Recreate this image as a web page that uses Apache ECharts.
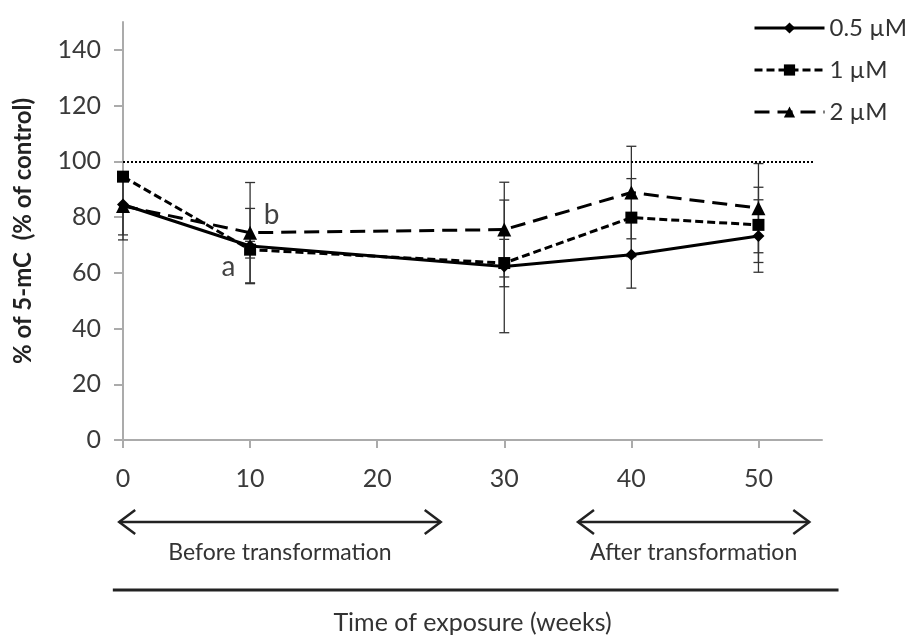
<!DOCTYPE html>
<html>
<head>
<meta charset="utf-8">
<script src="https://cdn.jsdelivr.net/npm/echarts@6/dist/echarts.min.js"></script>
<style>
  html, body { margin: 0; padding: 0; background: #fff; }
  #chart { width: 907px; height: 639px; }
</style>
</head>
<body>
<div id="chart"></div>
<script>
// weeks of exposure
const weeks = [0, 10, 30, 40, 50];
const xTicks = [0, 10, 20, 30, 40, 50];
const yTicks = [0, 20, 40, 60, 80, 100, 120, 140];

// % of 5-mC (% of control)
const dose05 = [84.5, 69.6, 62.3, 66.5, 73.2];
const dose1 = [94.5, 68.3, 63.5, 79.8, 77.2];
const dose2 = [84.0, 74.4, 75.5, 88.8, 83.2];

// error bars (+/-)
const err05 = [10.9, 13.5, 23.8, 12.0, 13.0];
const err1 = [1.5, 3.0, 8.5, 14.0, 13.5];
const err2 = [12.2, 18.0, 17.0, 16.6, 16.0];

const controlLevel = 100;
const controlFrom = 0;
const controlTo = 54.4;

// letters near week 10
const noteText = ['a', 'b'];
const noteX = [8.3, 11.7];
const noteY = [62.1, 80.8];

// phases shown below the x axis
const phaseNames = ['Before transformation', 'After transformation'];
const phaseFrom = [-0.3, 35.8];
const phaseTo = [25.0, 54.0];

const fontFamily = 'Lato, "Open Sans", sans-serif';
const axisGray = '#ababab';

function pairs(xs, ys) {
  return xs.map((x, i) => [x, ys[i]]);
}

function errData(xs, ys, es) {
  return xs.map((x, i) => [x, ys[i] - es[i], ys[i] + es[i]]);
}

function errSeries(data) {
  return {
    type: 'custom',
    silent: true,
    z: 1,
    data: data,
    encode: { x: 0, y: [1, 2] },
    renderItem: function (params, api) {
      const lo = api.coord([api.value(0), api.value(1)]);
      const hi = api.coord([api.value(0), api.value(2)]);
      const cap = 5;
      const style = { stroke: '#333', lineWidth: 1.3 };
      return {
        type: 'group',
        children: [
          { type: 'line', shape: { x1: hi[0], y1: hi[1], x2: lo[0], y2: lo[1] }, style: style },
          { type: 'line', shape: { x1: hi[0] - cap, y1: hi[1], x2: hi[0] + cap, y2: hi[1] }, style: style },
          { type: 'line', shape: { x1: lo[0] - cap, y1: lo[1], x2: lo[0] + cap, y2: lo[1] }, style: style }
        ]
      };
    }
  };
}

const chart = echarts.init(document.getElementById('chart'));

const option = {
  animation: false,
  textStyle: { fontFamily: fontFamily },
  grid: { left: 123, right: 85, top: 22, bottom: 199, containLabel: false, outerBoundsMode: 'none' },
  legend: {
    orient: 'vertical',
    left: 748,
    top: 11,
    itemWidth: 70,
    itemHeight: 14,
    itemGap: 18,
    lineStyle: { width: 3 },
    textStyle: { fontSize: 24, color: '#333', fontFamily: fontFamily, lineHeight: 24 },
    data: ['0.5 µM', '1 µM', '2 µM']
  },
  xAxis: {
    type: 'value',
    min: 0,
    max: 55,
    interval: 10,
    name: 'Time of exposure (weeks)',
    nameLocation: 'middle',
    nameGap: 170,
    nameTextStyle: { fontSize: 25, color: '#333', fontFamily: fontFamily },
    splitLine: { show: false },
    axisLine: { lineStyle: { color: axisGray, width: 2 } },
    axisTick: { length: 8, lineStyle: { color: axisGray, width: 2 }, customValues: xTicks },
    axisLabel: { fontSize: 25, color: '#3a3a3a', margin: 26, customValues: xTicks }
  },
  yAxis: {
    type: 'value',
    min: 0,
    max: 150,
    interval: 20,
    name: '% of 5-mC  (% of control)',
    nameLocation: 'middle',
    nameGap: 88,
    nameRotate: 90,
    nameTextStyle: { fontSize: 24, fontWeight: 'bold', color: '#222', fontFamily: fontFamily },
    splitLine: { show: false },
    axisLine: { show: true, lineStyle: { color: axisGray, width: 2 } },
    axisTick: { show: true, length: 9, lineStyle: { color: axisGray, width: 2 }, customValues: yTicks },
    axisLabel: { fontSize: 25, color: '#3a3a3a', margin: 22, customValues: yTicks }
  },
  series: [
    errSeries(errData(weeks, dose05, err05)),
    errSeries(errData(weeks, dose1, err1)),
    errSeries(errData(weeks, dose2, err2)),
    {
      name: '2 µM',
      type: 'line',
      z: 3,
      data: pairs(weeks, dose2),
      symbol: 'triangle',
      symbolSize: 14,
      itemStyle: { color: '#000' },
      lineStyle: { color: '#000', width: 3, type: [15, 8] }
    },
    {
      name: '1 µM',
      type: 'line',
      z: 4,
      data: pairs(weeks, dose1),
      symbol: 'rect',
      symbolSize: 12,
      itemStyle: { color: '#000' },
      lineStyle: { color: '#000', width: 3, type: [8, 4] }
    },
    {
      name: '0.5 µM',
      type: 'line',
      z: 5,
      data: pairs(weeks, dose05),
      symbol: 'diamond',
      symbolSize: 12,
      itemStyle: { color: '#000' },
      lineStyle: { color: '#000', width: 3 },
      markLine: {
        silent: true,
        symbol: 'none',
        label: { show: false },
        lineStyle: { color: '#000', width: 2, type: [2, 2] },
        data: [[{ coord: [controlFrom, controlLevel] }, { coord: [controlTo, controlLevel] }]]
      }
    },
    {
      type: 'scatter',
      silent: true,
      symbolSize: 0,
      z: 6,
      data: noteText.map((t, i) => ({ name: t, value: [noteX[i], noteY[i]] })),
      label: {
        show: true,
        position: 'inside',
        formatter: '{b}',
        fontSize: 28,
        color: '#111',
        fontFamily: fontFamily
      }
    }
  ]
};

chart.setOption(option);

// arrows and rule under the axis, placed through the x scale
const axisY = chart.convertToPixel({ gridIndex: 0 }, [0, 0])[1];
const arrowY = axisY + 82;
const textY = axisY + 113;
const ruleY = axisY + 150;
const graphic = [];
phaseNames.forEach((name, i) => {
  const x1 = chart.convertToPixel({ xAxisIndex: 0 }, phaseFrom[i]);
  const x2 = chart.convertToPixel({ xAxisIndex: 0 }, phaseTo[i]);
  const st = { stroke: '#222', lineWidth: 2.5, fill: null };
  graphic.push({ type: 'line', shape: { x1: x1, y1: arrowY, x2: x2, y2: arrowY }, style: st });
  graphic.push({ type: 'polyline', shape: { points: [[x1 + 16, arrowY - 12], [x1, arrowY], [x1 + 16, arrowY + 12]] }, style: st });
  graphic.push({ type: 'polyline', shape: { points: [[x2 - 16, arrowY - 12], [x2, arrowY], [x2 - 16, arrowY + 12]] }, style: st });
  graphic.push({
    type: 'text',
    x: (x1 + x2) / 2,
    y: textY,
    style: { text: name, fill: '#333', font: '23px ' + fontFamily, textAlign: 'center', textVerticalAlign: 'middle' }
  });
});
const ruleL = chart.convertToPixel({ xAxisIndex: 0 }, -0.8);
const ruleR = chart.convertToPixel({ xAxisIndex: 0 }, 56.3);
graphic.push({ type: 'line', shape: { x1: ruleL, y1: ruleY, x2: ruleR, y2: ruleY }, style: { stroke: '#222', lineWidth: 3 } });
chart.setOption({ graphic: graphic });
</script>
</body>
</html>
